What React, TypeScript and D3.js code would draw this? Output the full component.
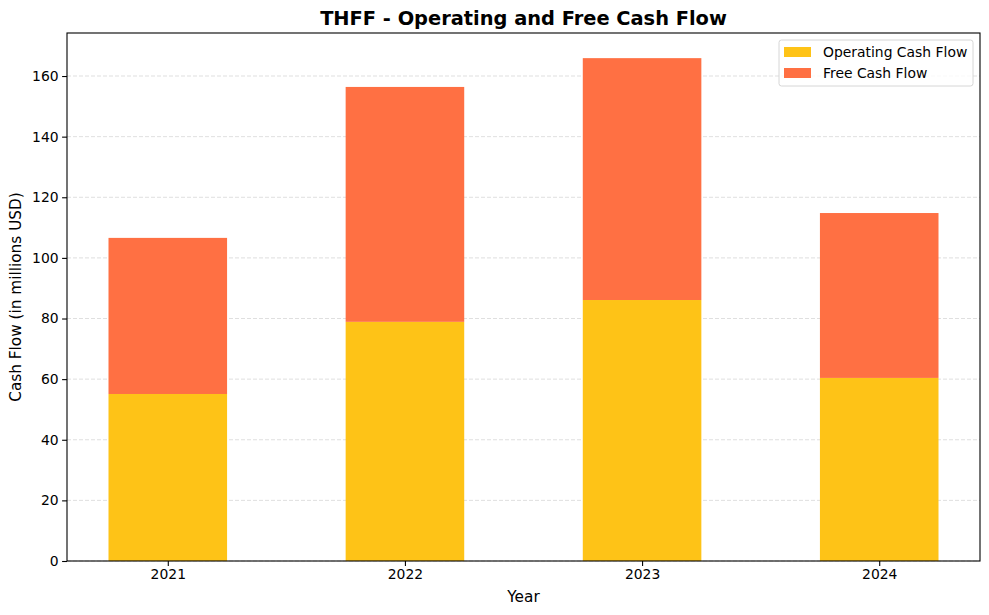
import React, { useRef, useEffect } from 'react';
import * as d3 from 'd3';

const years = ['2021', '2022', '2023', '2024'];
const operatingCashFlow = [55.1, 78.9, 86.1, 60.4];
const freeCashFlow = [51.5, 77.5, 79.8, 54.4];
const yTicks = [0, 20, 40, 60, 80, 100, 120, 140, 160];
const seriesNames = ['Operating Cash Flow', 'Free Cash Flow'];
const seriesColors = ['#FEC317', '#FF7043'];

const W = 989;
const H = 615;
const margin = { top: 33, right: 9, bottom: 54, left: 67 };
const font = 'DejaVu Sans, sans-serif';

function StackedBars(): React.ReactElement {
  const svgRef = useRef<SVGSVGElement | null>(null);

  useEffect(() => {
    const svg = d3.select(svgRef.current);
    svg.selectAll('*').remove();

    const x0 = margin.left;
    const x1 = W - margin.right;
    const y0 = H - margin.bottom;
    const y1 = margin.top;

    const totals = years.map((_, i) => operatingCashFlow[i] + freeCashFlow[i]);
    const yMax = d3.max(totals)! * 1.05;

    // category positions like matplotlib: bars of width 0.5 with 5% padding
    const x = d3.scaleLinear().domain([-0.425, years.length - 1 + 0.425]).range([x0, x1]);
    const y = d3.scaleLinear().domain([0, yMax]).range([y0, y1]);
    const barW = x(0.5) - x(0);

    svg.append('rect').attr('width', W).attr('height', H).attr('fill', 'white');

    // grid
    svg.append('g')
      .selectAll('line')
      .data(yTicks)
      .enter()
      .append('line')
      .attr('x1', x0)
      .attr('x2', x1)
      .attr('y1', (d) => y(d))
      .attr('y2', (d) => y(d))
      .attr('stroke', '#b0b0b0')
      .attr('stroke-opacity', 0.4)
      .attr('stroke-width', 1)
      .attr('stroke-dasharray', '4,2');

    const stacked = d3.stack<number>()
      .keys(['ocf', 'fcf'])
      .value((i, key) => (key === 'ocf' ? operatingCashFlow[i] : freeCashFlow[i]))(
        years.map((_, i) => i),
      );

    stacked.forEach((layer, li) => {
      svg.append('g')
        .selectAll('rect')
        .data(layer)
        .enter()
        .append('rect')
        .attr('x', (d) => x(d.data) - barW / 2)
        .attr('width', barW)
        .attr('y', (d) => y(d[1]))
        .attr('height', (d) => y(d[0]) - y(d[1]))
        .attr('fill', seriesColors[li]);
    });

    // frame
    svg.append('rect')
      .attr('x', x0)
      .attr('y', y1)
      .attr('width', x1 - x0)
      .attr('height', y0 - y1)
      .attr('fill', 'none')
      .attr('stroke', 'black')
      .attr('stroke-width', 1.1);

    const yAxis = svg.append('g')
      .attr('transform', `translate(${x0},0)`)
      .call(d3.axisLeft(y).tickValues(yTicks).tickSize(4.9).tickPadding(3.5));
    const xAxis = svg.append('g')
      .attr('transform', `translate(0,${y0})`)
      .call(d3.axisBottom(x).tickValues(years.map((_, i) => i)).tickFormat((d) => years[+d]).tickSize(4.9).tickPadding(3.5));

    [yAxis, xAxis].forEach((a) => {
      a.select('.domain').remove();
      a.selectAll('text').attr('font-family', font).attr('font-size', '13.9px').attr('fill', 'black');
      a.selectAll('line').attr('stroke', 'black').attr('stroke-width', 1.1);
    });

    svg.append('text')
      .attr('x', (x0 + x1) / 2)
      .attr('y', 25)
      .attr('text-anchor', 'middle')
      .attr('font-family', font)
      .attr('font-weight', 'bold')
      .attr('font-size', '19.4px')
      .text('THFF - Operating and Free Cash Flow');

    svg.append('text')
      .attr('x', (x0 + x1) / 2)
      .attr('y', 602)
      .attr('text-anchor', 'middle')
      .attr('font-family', font)
      .attr('font-size', '15.3px')
      .text('Year');

    svg.append('text')
      .attr('transform', `translate(21,${(y0 + y1) / 2}) rotate(-90)`)
      .attr('text-anchor', 'middle')
      .attr('font-family', font)
      .attr('font-size', '15.3px')
      .text('Cash Flow (in millions USD)');

    // legend
    const lg = svg.append('g').attr('transform', 'translate(779,40)');
    lg.append('rect')
      .attr('width', 194)
      .attr('height', 46)
      .attr('rx', 2.5)
      .attr('fill', 'white')
      .attr('fill-opacity', 0.8)
      .attr('stroke', '#d6d6d6')
      .attr('stroke-width', 1);
    seriesNames.forEach((name, i) => {
      lg.append('rect')
        .attr('x', 5)
        .attr('y', 7 + i * 21)
        .attr('width', 27)
        .attr('height', 10)
        .attr('fill', seriesColors[i]);
      lg.append('text')
        .attr('x', 44)
        .attr('y', 17 + i * 21)
        .attr('font-family', font)
        .attr('font-size', '13.9px')
        .text(name);
    });
  }, []);

  return <svg ref={svgRef} width={W} height={H} style={{ position: 'absolute', left: 0, top: 0 }} />;
}

export default function App(): React.ReactElement {
  return <StackedBars />;
}
